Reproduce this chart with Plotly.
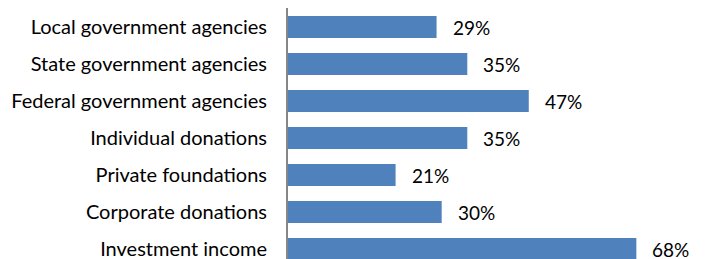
import plotly.graph_objects as go

categories = ["Local government agencies", "State government agencies", "Federal government agencies",
              "Individual donations", "Private foundations", "Corporate donations", "Investment income"]
values = [29, 35, 47, 35, 21, 30, 68]
labels = [f"{v}%" for v in values]

FONT = "Lato"
fig = go.Figure(go.Bar(
    x=values, y=categories, orientation="h",
    marker=dict(color="#4F81BD", line=dict(width=0)),
    width=0.59, hoverinfo="skip",
))
for c, v, t in zip(categories, values, labels):
    fig.add_annotation(x=v, y=c, text=t, showarrow=False, xanchor="left", xshift=15,
                       borderpad=0, font=dict(family=FONT, size=19, color="#000000"))

# page body has an 8px margin, so the figure is sized/offset to compensate
fig.update_layout(
    width=697, height=251,
    margin=dict(l=280, r=0, t=0, b=0),
    paper_bgcolor="white", plot_bgcolor="white",
    showlegend=False,
    font=dict(family=FONT, size=20, color="#000000"),
    xaxis=dict(range=[0, 81.4], visible=False, showgrid=False, zeroline=False),
    yaxis=dict(type="category", categoryorder="array", categoryarray=categories,
               range=[6.27, -0.514], showgrid=False, zeroline=False, automargin=False,
               showline=True, linecolor="#868686", linewidth=2,
               ticks="", ticklabelstandoff=15, tickfont=dict(family=FONT, size=20, color="#000000")),
)
fig.write_html("out.html")
